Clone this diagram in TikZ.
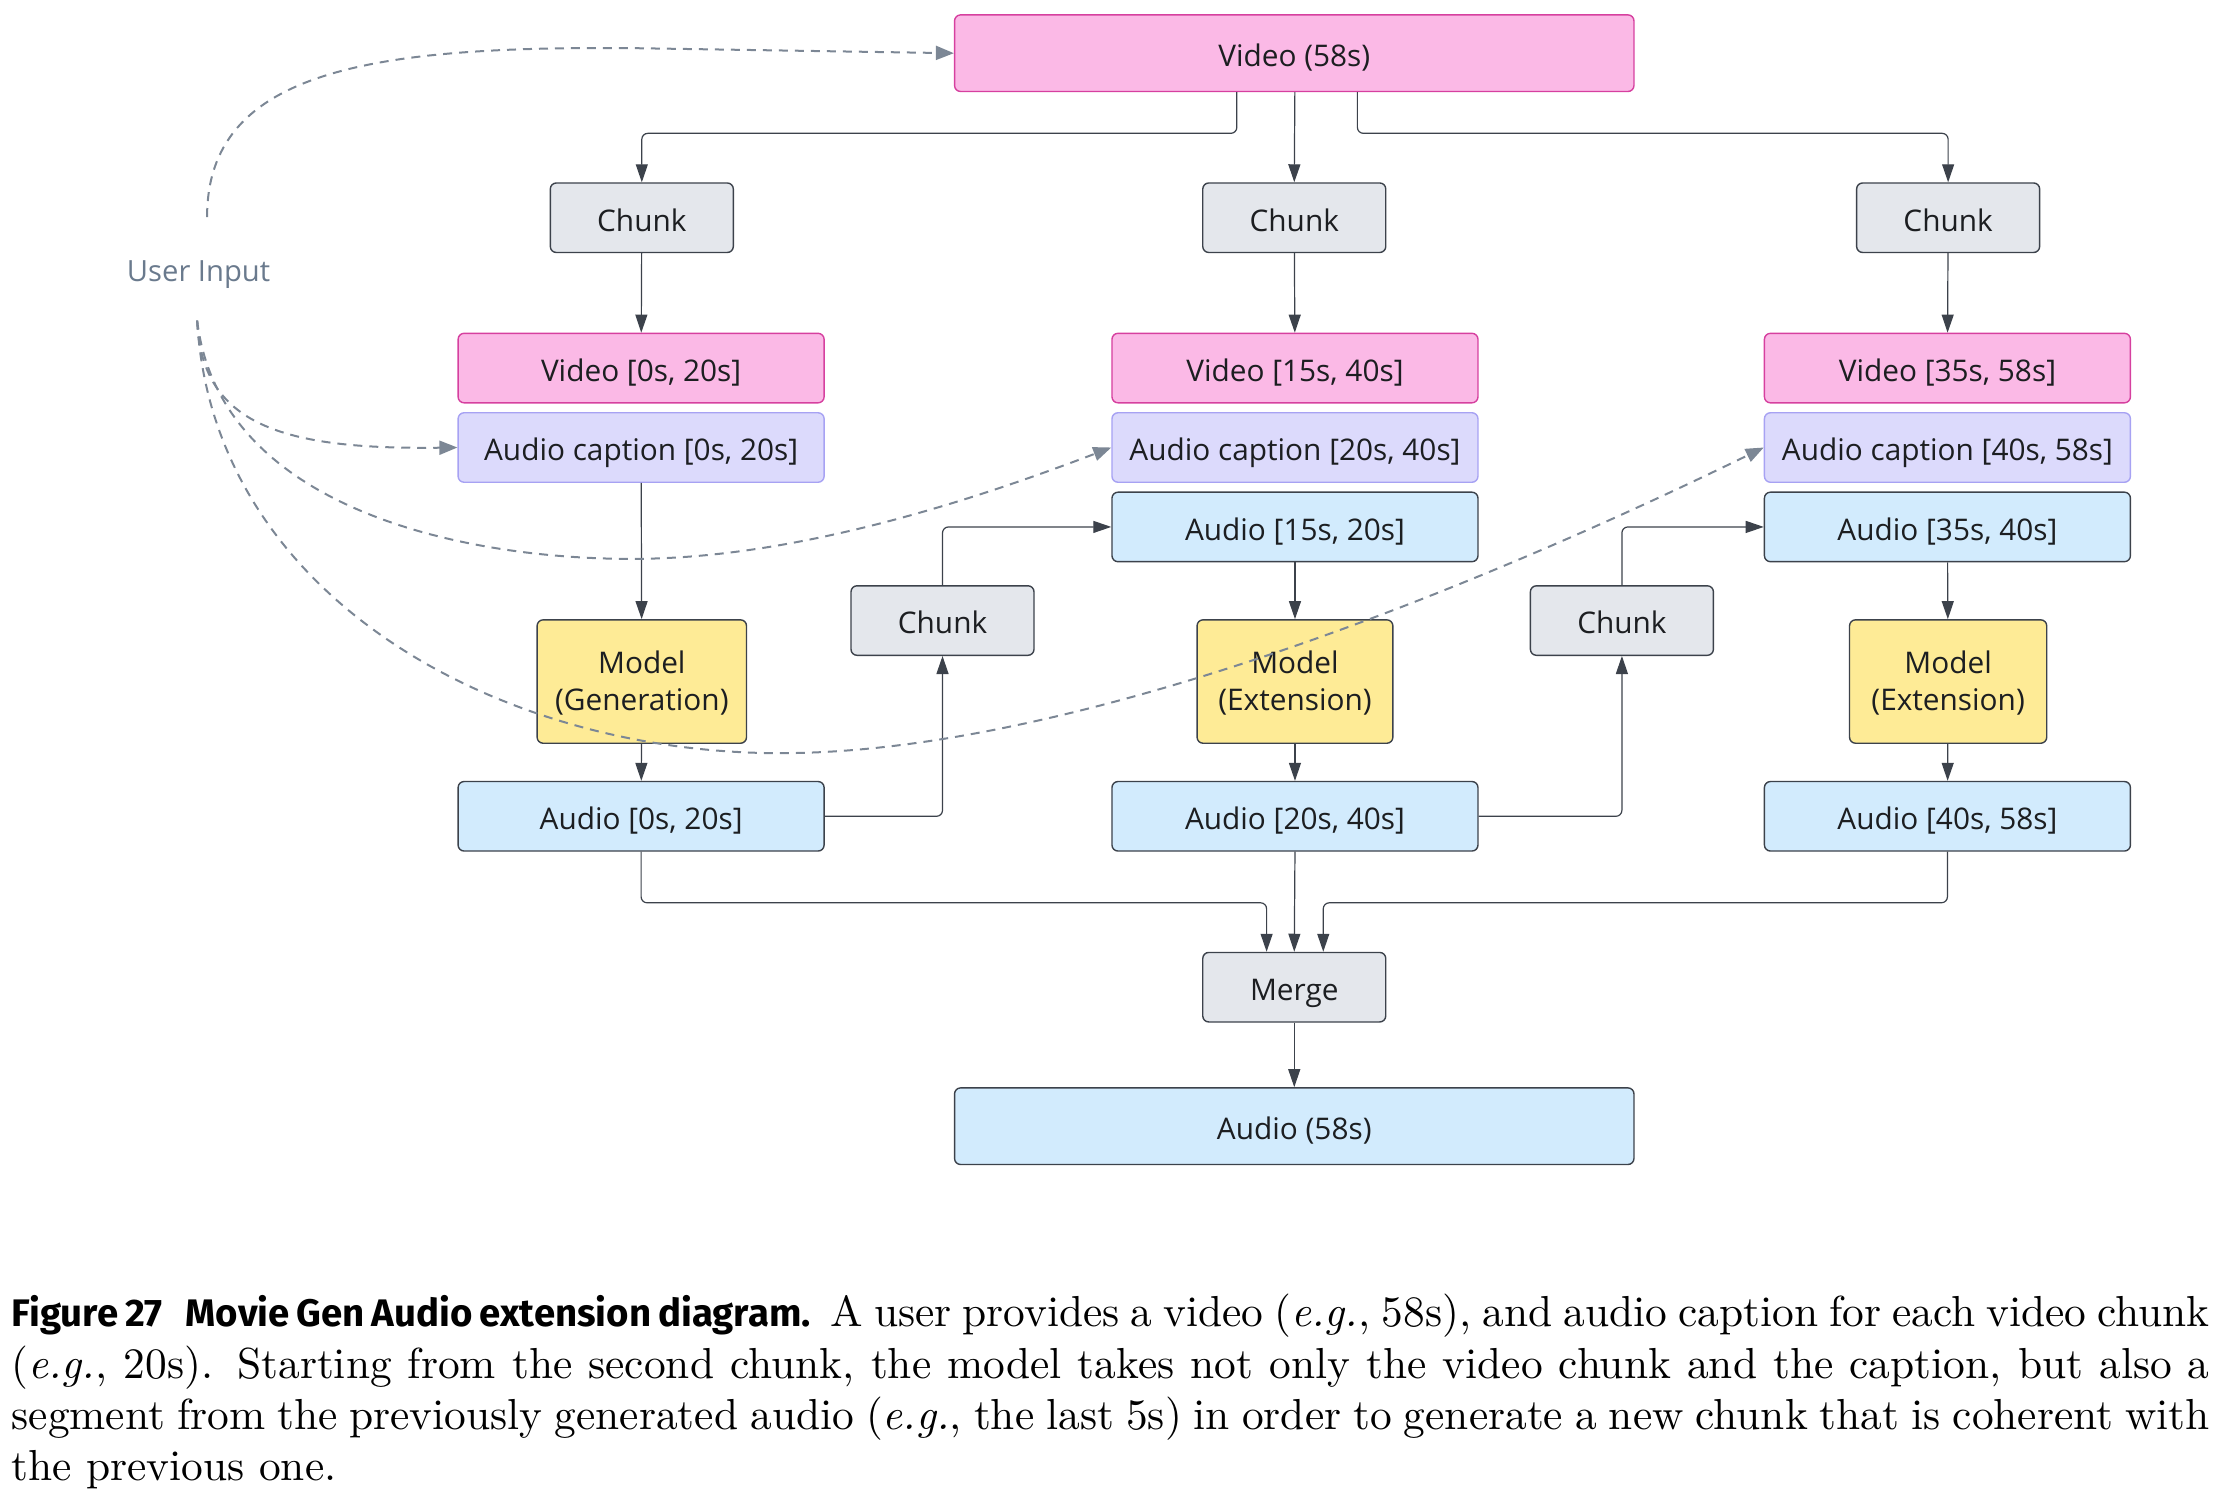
\documentclass[tikz,border=0pt]{standalone}
\usepackage{fontspec}
\setmainfont{lmroman10-regular.otf}[ItalicFont=lmroman10-italic.otf, BoldFont=lmroman10-bold.otf]
\newfontfamily\dfont{Open Sans}
\newfontfamily\capsans{Fira Sans}
\usetikzlibrary{arrows.meta}
\definecolor{pinkfill}{HTML}{FBB9E6}
\definecolor{pinkdraw}{HTML}{D6409F}
\definecolor{lavfill}{HTML}{DCDAFC}
\definecolor{lavdraw}{HTML}{A7A2F3}
\definecolor{bluefill}{HTML}{D2EBFD}
\definecolor{grayfill}{HTML}{E4E7EC}
\definecolor{yelfill}{HTML}{FEEB96}
\definecolor{edgec}{HTML}{3C424B}
\definecolor{dashc}{HTML}{7C8795}
\definecolor{txt}{HTML}{1C1E21}
\definecolor{uitxt}{HTML}{6A7A8D}
\begin{document}
\begin{tikzpicture}[x=0.7092pt,y=-0.7092pt,
  box/.style={draw=edgec, line width=0.7pt, rounded corners=3pt, inner sep=0pt,
    font=\dfont\fontsize{14.9}{18.3}\selectfont, text=txt, align=center,
    text height=13.44pt, text depth=0pt},
  bigbox/.style={box, minimum width=339.7pt, minimum height=38.3pt},
  widebox/.style={box, minimum width=183pt, minimum height=34.75pt},
  smallbox/.style={box, fill=grayfill, minimum width=91.5pt, minimum height=34.75pt},
  vidbox/.style={widebox, fill=pinkfill, draw=pinkdraw},
  capbox/.style={widebox, fill=lavfill, draw=lavdraw},
  audbox/.style={widebox, fill=bluefill},
  modelbox/.style={box, fill=yelfill, minimum height=61.7pt, text height=28.6pt},
  arr/.style={draw=edgec, line width=0.6pt, rounded corners=3pt, -{Triangle[length=9pt,width=6pt]}},
  darr/.style={draw=dashc, line width=1pt, dash pattern=on 4.5pt off 3.5pt, -{Triangle[length=9pt,width=7pt]}}
]
\useasboundingbox (0,0) rectangle (1568,1056.2);

% nodes
\node[bigbox, fill=pinkfill, draw=pinkdraw] (v58) at (912.5,37.5) {Video (58s)};
\node[smallbox] (c1) at (452.5,153.5) {Chunk};
\node[smallbox] (c2) at (912.5,153.5) {Chunk};
\node[smallbox] (c3) at (1373.5,153.5) {Chunk};
\node[vidbox] (v1) at (452,259.5) {Video [0s, 20s]};
\node[vidbox] (v2) at (913,259.5) {Video [15s, 40s]};
\node[vidbox] (v3) at (1373,259.5) {Video [35s, 58s]};
\node[capbox] (p1) at (452,315.5) {Audio caption [0s, 20s]};
\node[capbox] (p2) at (913,315.5) {Audio caption [20s, 40s]};
\node[capbox] (p3) at (1373,315.5) {Audio caption [40s, 58s]};
\node[audbox] (s2) at (913,371.5) {Audio [15s, 20s]};
\node[audbox] (s3) at (1373,371.5) {Audio [35s, 40s]};
\node[smallbox] (m1) at (664.5,437.5) {Chunk};
\node[smallbox] (m2) at (1143.5,437.5) {Chunk};
\node[modelbox, minimum width=104.7pt] (g1) at (452.5,480.5) {Model\\(Generation)};
\node[modelbox, minimum width=97.9pt] (g2) at (913,480.5) {Model\\(Extension)};
\node[modelbox, minimum width=98.6pt] (g3) at (1373.5,480.5) {Model\\(Extension)};
\node[audbox] (a1) at (452,575.5) {Audio [0s, 20s]};
\node[audbox] (a2) at (913,575.5) {Audio [20s, 40s]};
\node[audbox] (a3) at (1373,575.5) {Audio [40s, 58s]};
\node[smallbox] (mg) at (912.5,696) {Merge};
\node[bigbox, fill=bluefill] (a58) at (912.5,794) {Audio (58s)};
\node[font=\dfont\fontsize{14.6}{17}\selectfont, text=uitxt, inner sep=0pt,
  text height=13.2pt, text depth=0pt] (ui) at (140,189) {User Input};

% solid connectors
\draw[arr] ([xshift=-28.72pt]v58.south) -- ++(0,29) -| (c1.north);
\draw[arr] ([xshift=0.3pt]v58.south) -- (c2.north);
\draw[arr] ([xshift=31.56pt]v58.south) -- ++(0,29) -| (c3.north);
\draw[arr] (c1) -- (v1);
\draw[arr] (c2) -- (v2);
\draw[arr] (c3) -- (v3);
\draw[arr] (p1) -- (g1);
\draw[arr] (s2) -- (g2);
\draw[arr] (s3) -- (g3);
\draw[arr] (g1) -- (a1);
\draw[arr] (g2) -- (a2);
\draw[arr] (g3) -- (a3);
\draw[arr] (a1.east) -| (m1.south);
\draw[arr] (m1.north) |- (s2.west);
\draw[arr] (a2.east) -| (m2.south);
\draw[arr] (m2.north) |- (s3.west);
\draw[arr] (a1.south) -- ++(0,36) -| ([xshift=-13.83pt]mg.north);
\draw[arr] (a2.south) -- (mg.north);
\draw[arr] (a3.south) -- ++(0,36) -| ([xshift=14.5pt]mg.north);
\draw[arr] (mg) -- (a58);

% dashed user input connectors
\coordinate (uit) at (146,153);
\coordinate (uib) at (139,226);
\draw[darr] (uit) .. controls (146,50) and (260,32) .. (450,34) -- (v58.west);
\draw[darr] (uib) .. controls (142,300) and (200,317) .. (p1.west);
\draw[darr] (uib) .. controls (155,360) and (330,395) .. (450,394) .. controls (560,393) and (680,355) .. (p2.west);
\draw[darr] (uib) .. controls (150,420) and (350,531) .. (550,531) .. controls (760,531) and (1050,410) .. (p3.west);

% caption
\node[anchor=north west, inner sep=0pt, text width=1099pt, align=justify,
  font=\fontsize{21.7}{25.65}\selectfont] (cap) at (8,912.3)
  {{\capsans\bfseries\fontsize{19.2}{25.65}\selectfont Figure 27\hspace{0.6em}Movie Gen Audio extension diagram.}\hspace{1pt} A user provides a video (\textit{e.g.}, 58s), and audio caption for each video chunk\linebreak (\textit{e.g.}, 20s). Starting from the second chunk, the model takes not only the video chunk and the caption, but also a\linebreak segment from the previously generated audio (\textit{e.g.}, the last 5s) in order to generate a new chunk that is coherent with\linebreak the previous one.};
\end{tikzpicture}
\end{document}
